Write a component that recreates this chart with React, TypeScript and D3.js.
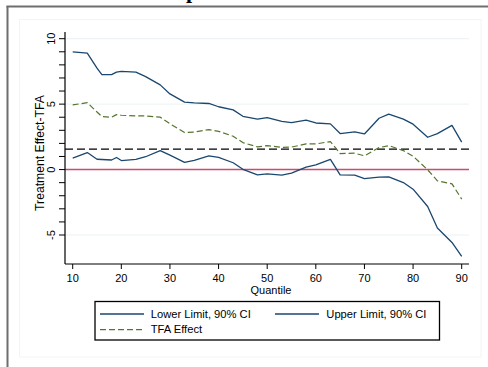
import React from "react";
import * as d3 from "d3";

const quantiles = [10, 13, 15, 16, 18, 19, 20, 23, 25, 28, 30, 33, 35, 38, 40, 43, 45, 48, 50, 53, 55, 58, 60, 63, 65, 68, 70, 73, 75, 78, 80, 83, 85, 88, 90];
const upperLimit = [9.0, 8.9, 7.75, 7.25, 7.25, 7.45, 7.5, 7.45, 7.1, 6.47, 5.78, 5.15, 5.1, 5.05, 4.8, 4.56, 4.07, 3.85, 3.97, 3.69, 3.59, 3.77, 3.56, 3.49, 2.75, 2.88, 2.72, 3.92, 4.23, 3.85, 3.47, 2.47, 2.75, 3.38, 2.1];
const tfaEffect = [4.94, 5.11, 4.4, 4.05, 4.0, 4.2, 4.15, 4.1, 4.1, 4.0, 3.5, 2.83, 2.87, 3.05, 2.92, 2.55, 2.06, 1.73, 1.83, 1.7, 1.72, 1.96, 1.96, 2.14, 1.22, 1.25, 1.05, 1.68, 1.83, 1.45, 1.02, -0.02, -0.86, -1.09, -2.26];
const lowerLimit = [0.88, 1.3, 0.79, 0.77, 0.73, 0.92, 0.69, 0.78, 0.98, 1.45, 1.1, 0.55, 0.7, 1.05, 0.93, 0.52, 0.02, -0.4, -0.33, -0.43, -0.27, 0.18, 0.36, 0.78, -0.4, -0.43, -0.69, -0.58, -0.56, -0.99, -1.5, -2.82, -4.47, -5.57, -6.64];
const meanEffect = 1.56;
const xTicks = [10, 20, 30, 40, 50, 60, 70, 80, 90];
const yLabelTicks = [-5, 0, 5, 10];
const yMinorTicks = d3.range(-5, 11, 1);
const gridValues = [-5, 5, 10];
const legendLabels = ["Lower Limit, 90% CI", "Upper Limit, 90% CI", "TFA Effect"];

const BLUE = "#1a476f";
const GREEN = "#55752f";
const FONT = "'Liberation Sans', Arial, Helvetica, sans-serif";

export default function App() {
  const x = d3.scaleLinear().domain([10, 90]).range([72.7, 461.7]);
  const y = d3.scaleLinear().domain([-5, 10]).range([235, 38.7]);
  const left = 65, right = 469, top = 32, bottom = 264;

  const mk = (vals: number[]) =>
    d3.line<number>().x((_, i) => x(quantiles[i])).y((v) => y(v))(vals) || "";

  return (
    <svg width={488} height={367} style={{ position: "absolute", left: 0, top: 0, background: "#fff" }}>
      <rect x={0} y={0} width={488} height={367} fill="#fff" />
      {/* clipped title descender */}
      <text x={186} y={-2.5} fontFamily="'Liberation Serif', serif" fontWeight="bold" fontSize={22} fill="#000">p</text>
      {/* outer frame */}
      <line x1={6.5} x2={488} y1={6.5} y2={6.5} stroke="#6e6e6e" strokeWidth={2} />
      <line x1={7.5} x2={7.5} y1={6} y2={367} stroke="#6e6e6e" strokeWidth={2} />
      {/* inner faint frame */}
      <rect x={19.5} y={19.5} width={461.5} height={337.5} fill="none" stroke="#f2f5f6" strokeWidth={1} />
      {/* grid */}
      {gridValues.map((g) => (
        <line key={g} x1={left} x2={right} y1={y(g)} y2={y(g)} stroke="#eaf2f3" strokeWidth={1} />
      ))}
      {/* zero line */}
      <line x1={left} x2={right} y1={y(0)} y2={y(0)} stroke="#cf4a72" strokeWidth={1.6} />
      {/* mean effect dashed */}
      <line x1={left} x2={right} y1={y(meanEffect)} y2={y(meanEffect)} stroke="#000" strokeWidth={1.3} strokeDasharray="8 4" />
      {/* series */}
      <path d={mk(upperLimit)} fill="none" stroke={BLUE} strokeWidth={1.3} strokeLinejoin="round" />
      <path d={mk(lowerLimit)} fill="none" stroke={BLUE} strokeWidth={1.3} strokeLinejoin="round" />
      <path d={mk(tfaEffect)} fill="none" stroke={GREEN} strokeWidth={1.2} strokeDasharray="6 3" strokeLinejoin="round" />
      {/* axes */}
      <line x1={left} x2={left} y1={top} y2={bottom} stroke="#000" strokeWidth={1.2} />
      <line x1={left} x2={right} y1={bottom} y2={bottom} stroke="#000" strokeWidth={1.2} />
      {yMinorTicks.map((t) => (
        <line key={t} x1={left - 6} x2={left} y1={y(t)} y2={y(t)} stroke="#000" strokeWidth={1} />
      ))}
      {yLabelTicks.map((t) => (
        <text key={t} transform={`translate(55,${y(t)}) rotate(-90)`} textAnchor="middle" fontFamily={FONT} fontSize={11} fill="#000">
          {t}
        </text>
      ))}
      {xTicks.map((t) => (
        <g key={t}>
          <line x1={x(t)} x2={x(t)} y1={bottom} y2={bottom + 5} stroke="#000" strokeWidth={1} />
          <text x={x(t)} y={282.3} textAnchor="middle" fontFamily={FONT} fontSize={11} fill="#000">
            {t}
          </text>
        </g>
      ))}
      <text x={271} y={293.5} textAnchor="middle" fontFamily={FONT} fontSize={11} fill="#000">Quantile</text>
      <text transform="translate(43.5,153) rotate(-90)" textAnchor="middle" fontFamily={FONT} fontSize={12.2} fill="#000">
        Treatment Effect-TFA
      </text>
      {/* legend */}
      <rect x={95} y={301.5} width={344.5} height={38.5} fill="#fff" stroke="#000" strokeWidth={1.3} />
      <line x1={100} x2={144} y1={314} y2={314} stroke={BLUE} strokeWidth={1.3} />
      <text x={150.7} y={317.5} fontFamily={FONT} fontSize={11.2} fill="#000">{legendLabels[0]}</text>
      <line x1={275} x2={319} y1={314} y2={314} stroke={BLUE} strokeWidth={1.3} />
      <text x={326.3} y={317.5} fontFamily={FONT} fontSize={11.2} fill="#000">{legendLabels[1]}</text>
      <line x1={100} x2={144} y1={329.7} y2={329.7} stroke={GREEN} strokeWidth={1.2} strokeDasharray="6 3" />
      <text x={150.7} y={333.3} fontFamily={FONT} fontSize={11.2} fill="#000">{legendLabels[2]}</text>
    </svg>
  );
}
